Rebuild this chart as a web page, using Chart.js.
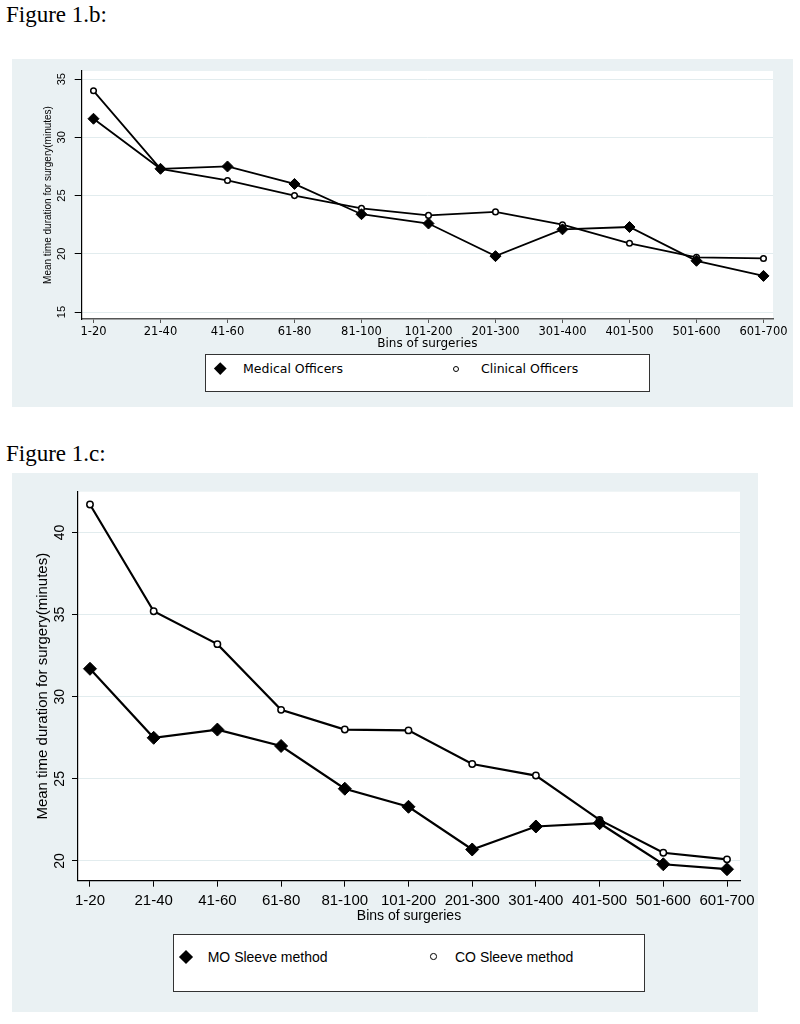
<!DOCTYPE html>
<html>
<head>
<meta charset="utf-8">
<script src="https://cdn.jsdelivr.net/npm/chart.js@4.4.1/dist/chart.umd.min.js"></script>
<style>
  body { margin: 0; background: #fff; width: 800px; height: 1024px; overflow: hidden; position: relative; }
  .fig { position: absolute; left: 6px; font: 23px/23px "Liberation Serif", "Times New Roman", serif; color: #000; }
  .panel { position: absolute; background: #eaf1f3; }
  .panel canvas { position: absolute; left: 0; top: 0; }
  .legend { position: absolute; background: #fff; border: 1px solid #333; box-sizing: border-box; }
  .legend div { position: absolute; }
  .legend span { position: absolute; white-space: nowrap; color: #000; }
</style>
</head>
<body>
<div class="fig" style="top:3px">Figure 1.b:</div>
<div class="panel" style="left:12px;top:59px;width:781px;height:348px">
  <canvas id="chart1b" width="781" height="348"></canvas>
</div>
<div class="legend" id="legend1b" style="left:205px;top:354px;width:445px;height:38px"></div>

<div class="fig" style="top:442px">Figure 1.c:</div>
<div class="panel" style="left:12px;top:473px;width:746px;height:539px">
  <canvas id="chart1c" width="746" height="539"></canvas>
</div>
<div class="legend" id="legend1c" style="left:173px;top:934px;width:472px;height:58px"></div>

<script>
// bins on the x axis (same for both figures)
var binLabels = ['1-20', '21-40', '41-60', '61-80', '81-100', '101-200', '201-300', '301-400', '401-500', '501-600', '601-700'];

// Figure 1.b
var names1b = ['Medical Officers', 'Clinical Officers'];
var medicalOfficers = [31.6, 27.3, 27.5, 26.0, 23.4, 22.6, 19.8, 22.1, 22.3, 19.4, 18.1];
var clinicalOfficers = [34.0, 27.3, 26.3, 25.0, 23.9, 23.3, 23.6, 22.5, 20.9, 19.7, 19.6];
var yTicks1b = [15, 20, 25, 30, 35];

// Figure 1.c
var names1c = ['MO Sleeve method', 'CO Sleeve method'];
var moSleeve = [31.7, 27.5, 28.0, 27.0, 24.4, 23.3, 20.7, 22.1, 22.3, 19.8, 19.5];
var coSleeve = [41.7, 35.2, 33.2, 29.2, 28.0, 27.95, 25.9, 25.2, 22.5, 20.5, 20.1];
var yTicks1c = [20, 25, 30, 35, 40];

var yTitle = 'Mean time duration for surgery(minutes)';
var xTitle = 'Bins of surgeries';
var sans = '"Liberation Sans", Arial, sans-serif';
var wide = '"DejaVu Sans", Verdana, sans-serif';

// white plot region, the rest of the canvas stays transparent
var plotBackground = {
    id: 'plotBackground',
    beforeDraw: function(chart) {
        var a = chart.chartArea;
        var ctx = chart.ctx;
        ctx.save();
        ctx.fillStyle = '#fff';
        ctx.fillRect(a.left, a.top, a.right - a.left, a.bottom - a.top);
        ctx.restore();
    }
};

function toPoints(values) {
    return binLabels.map(function(label, i) { return { x: i, y: values[i] }; });
}

function noPadding(scale) {
    scale.paddingLeft = 0; scale.paddingRight = 0;
    scale.paddingTop = 0; scale.paddingBottom = 0;
}

function makeChart(canvasId, s) {
    var context = document.getElementById(canvasId).getContext('2d');
    return new Chart(context, {
        type: 'line',
        data: {
            datasets: [{
                label: s.names[0],
                data: toPoints(s.first),
                borderColor: '#000',
                borderWidth: s.lineWidth,
                pointStyle: 'rectRot',
                pointRadius: s.diamond,
                pointBackgroundColor: '#000',
                pointBorderColor: '#000',
                pointBorderWidth: 1
            }, {
                label: s.names[1],
                data: toPoints(s.second),
                borderColor: '#000',
                borderWidth: s.lineWidth,
                pointStyle: 'circle',
                pointRadius: s.circle,
                pointBackgroundColor: '#fff',
                pointBorderColor: '#000',
                pointBorderWidth: 1.5
            }]
        },
        options: {
            responsive: false,
            animation: false,
            events: [],
            layout: { padding: s.padding },
            plugins: { legend: { display: false }, tooltip: { enabled: false } },
            scales: {
                x: {
                    type: 'linear',
                    min: s.xMin,
                    max: s.xMax,
                    afterBuildTicks: function(scale) {
                        scale.ticks = binLabels.map(function(l, i) { return { value: i }; });
                    },
                    afterFit: function(scale) { scale.height = s.xHeight; noPadding(scale); },
                    ticks: {
                        autoSkip: false, maxRotation: 0, minRotation: 0,
                        padding: s.xPad, color: '#000', font: s.xFont,
                        callback: function(v) { return binLabels[v]; }
                    },
                    grid: { drawOnChartArea: false, drawTicks: true, tickLength: s.xTickLen, tickColor: s.xAxisColor, color: s.xAxisColor },
                    border: { display: true, color: s.xAxisColor, width: s.xAxisWidth },
                    title: { display: true, text: xTitle, color: '#000', font: s.xTitleFont, padding: 0 }
                },
                y: {
                    type: 'linear',
                    min: s.yMin,
                    max: s.yMax,
                    afterBuildTicks: function(scale) {
                        scale.ticks = s.yTicks.map(function(v) { return { value: v }; });
                    },
                    afterFit: function(scale) { scale.width = s.yWidth; noPadding(scale); },
                    ticks: {
                        minRotation: 90, maxRotation: 90, crossAlign: 'center',
                        padding: s.yPad, color: '#000', font: s.yFont
                    },
                    grid: { color: '#e2ecee', lineWidth: 1, tickLength: s.yTickLen, tickColor: '#000' },
                    border: { display: true, color: '#000', width: 1.2 },
                    title: { display: true, text: yTitle, color: '#000', font: s.yTitleFont, padding: 0 }
                }
            }
        },
        plugins: [plotBackground]
    });
}

function fillLegend(id, names, s) {
    var box = document.getElementById(id);
    var symbols = [
        { cx: s.diamondX, kind: 'diamond', textX: s.text1X },
        { cx: s.circleX, kind: 'circle', textX: s.text2X }
    ];
    symbols.forEach(function(item, i) {
        var mark = document.createElement('div');
        if (item.kind === 'diamond') {
            mark.style.width = s.diamondSide + 'px';
            mark.style.height = s.diamondSide + 'px';
            mark.style.background = '#000';
            mark.style.transform = 'rotate(45deg)';
            mark.style.left = (item.cx - s.diamondSide / 2) + 'px';
            mark.style.top = (s.cy - s.diamondSide / 2) + 'px';
        } else {
            var d = s.circleSize;
            mark.style.width = d + 'px';
            mark.style.height = d + 'px';
            mark.style.boxSizing = 'border-box';
            mark.style.border = '1.5px solid #000';
            mark.style.borderRadius = '50%';
            mark.style.background = '#fff';
            mark.style.left = (item.cx - d / 2) + 'px';
            mark.style.top = (s.cy - d / 2) + 'px';
        }
        box.appendChild(mark);

        var text = document.createElement('span');
        text.textContent = names[i];
        text.style.font = s.font;
        text.style.lineHeight = '16px';
        text.style.left = item.textX + 'px';
        text.style.top = (s.cy - 8) + 'px';
        box.appendChild(text);
    });
}

makeChart('chart1b', {
    names: names1b, first: medicalOfficers, second: clinicalOfficers,
    lineWidth: 1.8, diamond: 5.5, circle: 2.8,
    padding: { left: 30.3, top: 12, right: 20, bottom: 56.3 },
    xMin: -0.176, xMax: 10.142, xHeight: 31.7, xPad: 2.1, xTickLen: 4,
    xFont: { family: wide, size: 11.5, lineHeight: 1.2 },
    xTitleFont: { family: wide, size: 12, lineHeight: 1.2 },
    xAxisColor: '#555', xAxisWidth: 1.5,
    yMin: 14.4, yMax: 35.7, yTicks: yTicks1b, yWidth: 39.4, yPad: 7.1, yTickLen: 7,
    yFont: { family: sans, size: 11, lineHeight: 1.2 },
    yTitleFont: { family: sans, size: 10, lineHeight: 1.2 }
});

makeChart('chart1c', {
    names: names1c, first: moSleeve, second: coSleeve,
    lineWidth: 2.2, diamond: 6.5, circle: 3.2,
    padding: { left: 22.3, top: 18.7, right: 18, bottom: 87.6 },
    xMin: -0.188, xMax: 10.204, xHeight: 43.7, xPad: 5, xTickLen: 6,
    xFont: { family: sans, size: 15, lineHeight: 1.2 },
    xTitleFont: { family: sans, size: 14, lineHeight: 1.2 },
    xAxisColor: '#000', xAxisWidth: 1.2,
    yMin: 18.8, yMax: 42.48, yTicks: yTicks1c, yWidth: 43.7, yPad: 4.2, yTickLen: 6,
    yFont: { family: sans, size: 14, lineHeight: 1.2 },
    yTitleFont: { family: sans, size: 15, lineHeight: 1.2 }
});

fillLegend('legend1b', names1b, {
    cy: 13.7, diamondX: 14, diamondSide: 8.5, circleX: 250, circleSize: 6,
    text1X: 37, text2X: 275, font: '12.5px ' + wide
});

fillLegend('legend1c', names1c, {
    cy: 21.7, diamondX: 12, diamondSide: 10, circleX: 259.3, circleSize: 6.5,
    text1X: 33.7, text2X: 281, font: '14px ' + sans
});
</script>
</body>
</html>
